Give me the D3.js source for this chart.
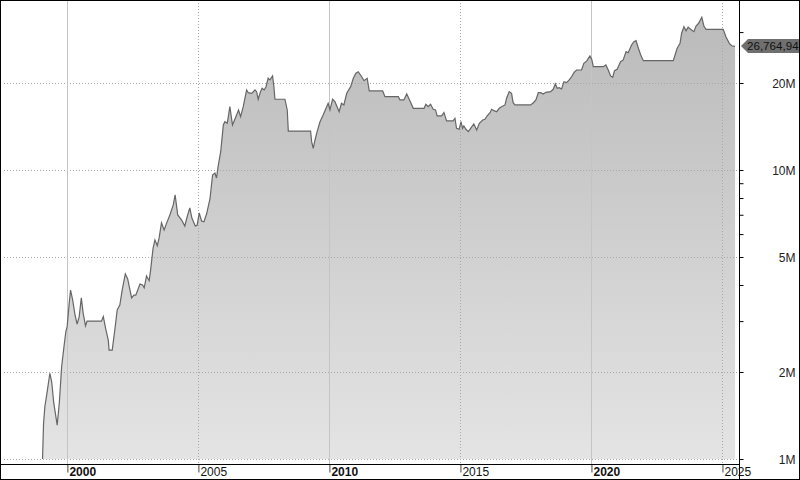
<!DOCTYPE html>
<html><head><meta charset="utf-8">
<script src="https://cdn.jsdelivr.net/npm/d3@7/dist/d3.min.js"></script>
<style>
html,body{margin:0;padding:0;background:#fff;}
svg{display:block;font-family:"Liberation Sans",Arial,sans-serif;}
</style></head>
<body><svg id="c" width="800" height="480"></svg>
<script>
// ---- data (year, value in millions) ----
const years = [1999.07,1999.11,1999.16,1999.24,1999.35,1999.42,1999.50,1999.63,1999.71,1999.80,1999.89,1999.96,
2000.01,2000.09,2000.14,2000.22,2000.31,2000.39,2000.47,2000.55,2000.62,2000.71,2000.77,
2001.32,2001.39,2001.49,2001.58,2001.61,2001.73,2001.83,2001.92,
2002.02,2002.11,2002.23,2002.32,2002.47,2002.56,2002.63,2002.79,2002.89,2002.95,
2003.04,2003.14,2003.19,2003.29,2003.36,2003.45,2003.52,2003.61,2003.71,2003.81,2003.93,
2004.06,2004.13,2004.23,2004.38,2004.50,2004.59,2004.69,2004.77,2004.90,2004.97,
2005.05,2005.14,2005.23,2005.33,2005.46,2005.56,2005.65,2005.71,2005.77,2005.87,2005.97,
2006.03,2006.12,2006.22,2006.32,2006.45,2006.55,2006.63,2006.73,2006.86,2006.92,
2007.05,2007.18,2007.24,2007.30,2007.39,2007.45,2007.53,2007.60,2007.68,2007.75,2007.85,2007.90,2007.94,
2008.32,2008.41,2008.45,
2009.30,2009.34,2009.40,2009.47,2009.55,2009.66,2009.78,2009.89,2009.97,
2010.04,2010.14,2010.23,2010.39,2010.48,2010.57,2010.68,2010.83,2010.93,
2011.03,2011.12,2011.25,2011.34,2011.46,2011.54,
2012.05,2012.14,2012.65,2012.71,2012.86,2012.97,
2013.09,2013.22,2013.63,2013.70,2013.79,2013.88,2013.98,
2014.07,2014.13,2014.30,2014.39,2014.49,2014.74,2014.81,2014.87,2014.97,
2015.04,2015.10,2015.15,2015.23,2015.32,2015.41,2015.53,2015.64,2015.74,2015.87,2015.95,
2016.04,2016.15,2016.21,2016.30,2016.40,2016.50,2016.59,2016.72,2016.78,2016.88,2016.97,
2017.03,2017.10,2017.70,2017.80,2017.90,2017.99,
2018.08,2018.18,2018.28,2018.46,2018.56,2018.64,2018.71,2018.79,2018.88,2018.97,
2019.07,2019.17,2019.26,2019.35,2019.45,2019.64,2019.73,2019.84,2019.96,
2020.03,2020.09,2020.47,2020.57,2020.66,2020.75,2020.83,2020.90,
2021.00,2021.13,2021.23,2021.34,2021.42,2021.55,2021.64,2021.72,2021.81,2021.90,
2022.00,2023.14,2023.21,2023.29,2023.40,2023.46,2023.55,2023.63,2023.71,2023.84,2023.93,
2024.01,2024.11,2024.23,2024.31,2024.39,
2025.05,2025.15,2025.28,2025.37,2025.50];
const valuesM = [1.00,1.33,1.52,1.69,1.98,1.85,1.56,1.31,1.56,2.09,2.45,2.76,
2.87,3.47,3.84,3.55,3.15,2.93,3.11,3.61,3.20,2.89,3.00,
3.00,3.11,2.80,2.58,2.38,2.38,2.80,3.28,
3.41,3.84,4.37,4.20,3.61,3.69,3.69,4.03,4.00,3.91,
4.30,4.14,4.47,5.37,5.73,5.47,5.82,6.56,6.20,6.56,6.99,
7.57,8.20,6.99,6.71,6.40,6.89,7.39,6.82,6.40,6.44,
7.10,6.66,6.62,7.04,7.94,9.61,9.76,9.38,10.27,11.57,14.31,
14.69,14.51,16.56,14.31,15.29,16.13,15.29,16.56,18.92,18.51,
18.42,18.92,18.66,17.57,18.66,19.17,18.92,19.42,20.77,20.49,21.15,19.42,17.57,
17.57,16.13,13.64,
13.64,12.53,11.89,12.70,13.57,14.69,15.50,16.35,17.01,
16.13,17.57,17.23,15.91,17.01,16.79,18.42,19.42,20.77,
21.61,21.88,21.02,20.37,20.77,18.77,
18.77,17.93,17.93,17.47,17.47,18.32,
17.37,16.35,16.35,16.88,16.56,16.88,16.22,
16.13,15.38,15.38,15.79,14.78,14.78,15.10,13.94,13.83,
14.69,13.94,14.20,13.83,13.57,13.94,14.43,13.75,14.51,14.89,14.98,
15.38,15.79,16.22,16.04,15.91,16.35,16.56,16.79,17.71,18.66,18.42,
17.09,16.79,16.79,17.09,17.47,18.51,
18.51,18.32,18.57,18.66,19.02,19.85,19.17,19.27,19.07,20.21,
20.05,20.49,21.02,21.71,22.18,22.18,23.39,23.84,24.80,
24.15,22.78,22.78,23.09,22.18,21.15,20.93,22.06,
22.31,23.70,24.03,25.67,25.46,27.07,27.80,28.02,26.37,25.00,
23.89,23.89,25.00,26.37,27.44,29.72,31.32,30.34,31.18,30.51,30.10,
31.50,32.18,33.76,31.50,30.68,
30.68,28.92,27.44,26.90,26.76];

const xTickYears = [2000,2005,2010,2015,2020,2025];
const xTickLabels = ["2000","2005","2010","2015","2020","2025"];
const xTickMajor = [true,false,true,false,true,false];
const yTickValues = [1e6,2e6,5e6,1e7,2e7];
const yTickLabels = ["1M","2M","5M","10M","20M"];
const yMinorTicks = [3e6,4e6,6e6,7e6,8e6,9e6,3e7];
const lastLabel = "26,764,94";

// ---- layout ----
const W = 800, H = 480;
const L = 4, R = 739, T = 0, B = 464;
const svg = d3.select("#c");
const data = years.map((yr,i)=>({year:yr, value:valuesM[i]*1e6}));

const x = d3.scaleLinear().domain([1997.6, 2025.65]).range([L, R]);
const y = d3.scaleLog().domain([0.961e6, 38.74e6]).range([B, T]);

const defs = svg.append("defs");
const grad = defs.append("linearGradient").attr("id","g").attr("gradientUnits","userSpaceOnUse")
  .attr("x1",0).attr("y1",0).attr("x2",0).attr("y2",y(1e6));
grad.append("stop").attr("offset","0").attr("stop-color","#b9b9b9");
grad.append("stop").attr("offset","1").attr("stop-color","#e4e4e4");
defs.append("clipPath").attr("id","plot").append("rect").attr("x",L).attr("y",T).attr("width",R-L).attr("height",B-T);

svg.append("rect").attr("width",W).attr("height",H).attr("fill","#fff");

const plot = svg.append("g").attr("clip-path","url(#plot)");
// area
plot.append("path").datum(data)
  .attr("d", d3.area().x(d=>x(d.year)).y0(y(1e6)).y1(d=>y(d.value)))
  .attr("fill","url(#g)");
// grid
const grid = plot.append("g");
grid.selectAll("line.h").data(yTickValues).join("line")
  .attr("x1",L).attr("x2",R).attr("y1",d=>Math.round(y(d))+0.5).attr("y2",d=>Math.round(y(d))+0.5)
  .attr("stroke","#a8a8a8").attr("stroke-dasharray","1,2");
grid.selectAll("line.v").data(xTickYears).join("line")
  .attr("x1",d=>Math.round(x(d))+0.5).attr("x2",d=>Math.round(x(d))+0.5).attr("y1",T).attr("y2",B)
  .attr("stroke",(d,i)=>xTickMajor[i]?"#c4c4c4":"#a8a8a8")
  .attr("stroke-dasharray",(d,i)=>xTickMajor[i]?null:"1,2");
// line
plot.append("path").datum(data)
  .attr("d", d3.line().x(d=>x(d.year)).y(d=>y(d.value)))
  .attr("fill","none").attr("stroke","#666").attr("stroke-width",1.2);

// bottom axis
const xAxis = d3.axisBottom(x).tickValues(xTickYears).tickSize(8).tickPadding(0)
  .tickFormat((d,i)=>xTickLabels[i]);
const gx = svg.append("g").attr("transform",`translate(0,${B+0.5})`).call(xAxis);
gx.select(".domain").remove();
gx.selectAll(".tick line").attr("stroke","#444").attr("transform","translate(0.5,0)");
gx.selectAll(".tick text").attr("text-anchor","start").attr("x",2).attr("y",11.5).attr("dy",null)
  .attr("font-size",12).attr("fill","#111")
  .attr("font-weight",(d,i)=>xTickMajor[i]?"bold":"normal")
  .attr("font-family","'Liberation Sans',Arial,sans-serif");
svg.append("line").attr("x1",0).attr("x2",R).attr("y1",B+0.5).attr("y2",B+0.5).attr("stroke","#000");

// right axis
const yAxis = d3.axisRight(y).tickValues(yTickValues.concat(yMinorTicks)).tickSize(4).tickPadding(0)
  .tickFormat(d=>{const i=yTickValues.indexOf(d); return i>=0?yTickLabels[i]:"";});
const gy = svg.append("g").attr("transform",`translate(${R+0.5},0)`).call(yAxis);
gy.select(".domain").remove();
gy.selectAll(".tick line").attr("stroke","#000");
gy.selectAll(".tick text").attr("text-anchor","end").attr("x",W-5-R).attr("dy","0.35em")
  .attr("font-size",12).attr("fill","#222").attr("font-family","'Liberation Sans',Arial,sans-serif");
svg.append("line").attr("x1",R+0.5).attr("x2",R+0.5).attr("y1",0).attr("y2",H).attr("stroke","#000");

// last value marker
const last = data[data.length-1];
const ly = Math.round(y(last.value));
const lab = svg.append("g");
lab.append("path")
  .attr("d",`M${R+2},${ly} L${R+9},${ly-7} L${W},${ly-7} L${W},${ly+7} L${R+9},${ly+7} Z`)
  .attr("fill","#6f6f6f");
lab.append("text").attr("x",R+8).attr("y",ly).attr("dy","0.36em").attr("font-size",11.6)
  .attr("fill","#111").attr("font-family","'Liberation Sans',Arial,sans-serif").text(lastLabel);

// border
svg.append("rect").attr("x",0.5).attr("y",0.5).attr("width",W-1).attr("height",H-1)
  .attr("fill","none").attr("stroke","#000");
</script></body></html>
